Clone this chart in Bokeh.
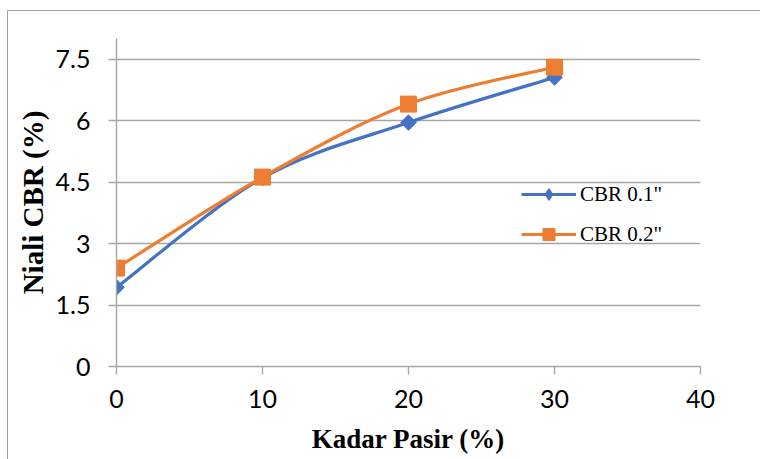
import numpy as np
from bokeh.plotting import figure
from bokeh.models import Range1d, FixedTicker, Legend, LegendItem, ColumnDataSource
from bokeh.embed import file_html
from bokeh.resources import INLINE

# data
kadar_pasir = [0, 10, 20, 30]
cbr_01 = [1.93, 4.60, 5.95, 7.05]
cbr_02 = [2.40, 4.62, 6.40, 7.30]
x_ticks = [0, 10, 20, 30, 40]
y_ticks = [0, 1.5, 3, 4.5, 6, 7.5]
series_names = ['CBR 0.1"', 'CBR 0.2"']
x_title = "Kadar Pasir (%)"
y_title = "Niali CBR (%)"

BLUE = "#4472C4"
ORANGE = "#ED7D31"
GRID = "#A6A6A6"
BORDER = "#A0A0A0"

chart_border_css = (
    f"linear-gradient({BORDER},{BORDER}) 7px 10px / 1px 100% no-repeat, "
    f"linear-gradient({BORDER},{BORDER}) 7px 10px / 100% 1px no-repeat, white"
)

p = figure(width=760, height=459, output_backend="svg", toolbar_location=None,
           x_range=Range1d(0, 40), y_range=Range1d(0, 8),
           min_border_left=116, min_border_right=60, min_border_top=38, min_border_bottom=93,
           styles={"background": chart_border_css})
p.outline_line_color = None
p.background_fill_color = "white"
p.border_fill_alpha = 0

p.xgrid.grid_line_color = None
p.ygrid.grid_line_color = GRID
p.ygrid.grid_line_width = 1.4

p.xaxis.ticker = FixedTicker(ticks=x_ticks)
p.yaxis.ticker = FixedTicker(ticks=y_ticks)
p.xaxis.major_label_overrides = {t: str(t) for t in x_ticks}
p.yaxis.major_label_overrides = {t: (str(int(t)) if float(t).is_integer() else str(t)) for t in y_ticks}

for ax in (p.xaxis[0], p.yaxis[0]):
    ax.axis_line_color = GRID
    ax.axis_line_width = 1.4
    ax.major_tick_line_color = GRID
    ax.major_tick_line_width = 1.4
    ax.minor_tick_line_color = None
    ax.major_tick_in = 0
    ax.major_tick_out = 8
    ax.major_label_text_font = "Lato"
    ax.major_label_text_font_size = "25px"
    ax.major_label_text_color = "#000000"
    ax.axis_label_text_font = "Liberation Serif"
    ax.axis_label_text_font_style = "bold"
    ax.axis_label_text_color = "#000000"

p.xaxis.major_label_standoff = 15
p.yaxis.major_label_standoff = 18
p.yaxis.axis_label = y_title
p.yaxis.axis_label_text_font_size = "29px"
p.yaxis.axis_label_standoff = 4
p.xaxis.axis_label = x_title
p.xaxis.axis_label_text_font_size = "27px"
p.xaxis.axis_label_standoff = 13


def smooth_segments(xs, ys):
    xs = np.asarray(xs, float)
    ys = np.asarray(ys, float)
    n = len(xs)
    d = dict(x0=[], y0=[], x1=[], y1=[], cx0=[], cy0=[], cx1=[], cy1=[])
    for i in range(n - 1):
        im1 = max(i - 1, 0)
        ip2 = min(i + 2, n - 1)
        d["x0"].append(xs[i]); d["y0"].append(ys[i])
        d["x1"].append(xs[i + 1]); d["y1"].append(ys[i + 1])
        d["cx0"].append(xs[i] + (xs[i + 1] - xs[im1]) / 6)
        d["cy0"].append(ys[i] + (ys[i + 1] - ys[im1]) / 6)
        d["cx1"].append(xs[i + 1] - (xs[ip2] - xs[i]) / 6)
        d["cy1"].append(ys[i + 1] - (ys[ip2] - ys[i]) / 6)
    return ColumnDataSource(d)


curve1 = p.bezier(x0="x0", y0="y0", x1="x1", y1="y1", cx0="cx0", cy0="cy0", cx1="cx1", cy1="cy1",
                  source=smooth_segments(kadar_pasir, cbr_01), line_color=BLUE, line_width=3.2)
curve2 = p.bezier(x0="x0", y0="y0", x1="x1", y1="y1", cx0="cx0", cy0="cy0", cx1="cx1", cy1="cy1",
                  source=smooth_segments(kadar_pasir, cbr_02), line_color=ORANGE, line_width=3.2)

# blue diamonds (the Bokeh "diamond" underneath is what the legend shows)
dia_legend = p.scatter(kadar_pasir, cbr_01, marker="diamond", size=14,
                       fill_color=BLUE, line_color=BLUE)
p.scatter(kadar_pasir, cbr_01, marker="square", size=11, angle=np.pi / 4,
          fill_color=BLUE, line_color=BLUE)
sq = p.scatter(kadar_pasir, cbr_02, marker="square", size=16,
               fill_color=ORANGE, line_color=ORANGE)

items = [LegendItem(label=series_names[0], renderers=[curve1, dia_legend]),
         LegendItem(label=series_names[1], renderers=[curve2, sq])]

legend = Legend(items=items, location=(405, 117), orientation="vertical",
                glyph_width=55, glyph_height=30, label_height=30, spacing=10,
                padding=0, margin=0, label_standoff=4,
                border_line_color=None, background_fill_alpha=0,
                label_text_font="Liberation Serif", label_text_font_size="21px",
                label_text_color="#000000")
p.add_layout(legend, "center")

open("out.html", "w").write(file_html(p, INLINE))
